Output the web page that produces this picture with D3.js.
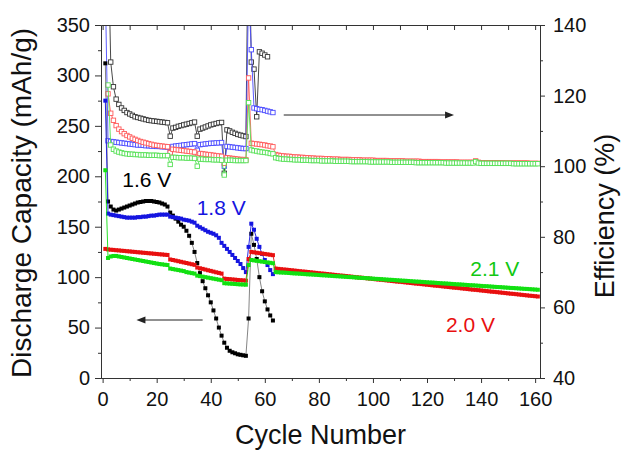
<!DOCTYPE html>
<html>
<head>
<meta charset="utf-8">
<script src="https://cdnjs.cloudflare.com/ajax/libs/d3/7.8.5/d3.min.js"></script>
<style>
  body { margin: 0; background: #fff; }
  svg text { font-family: 'Liberation Sans', Arial, Helvetica, sans-serif; }
</style>
</head>
<body>
<div id="chart"></div>
<script>
// values indexed by cycle (index 0 = cycle 1)
const cap16 = [
  312, 175, 170, 167, 166, 167, 168, 169, 170, 171,
  172, 173, 174, 174.5, 175, 175.5, 175.5, 175.5, 175, 174.5,
  174, 173, 172, 170, 164, 161, 158, 155, 152, 150,
  146, 141, 134, 125, 114, 104, 96, 89, 82, 75,
  67, 59, 50, 42, 35, 30, 27, 25.5, 24.5, 23.5,
  23, 22.5, 22, 59, 143, 132, 118, 100, 86, 76,
  68, 62, 57
]
const cap18 = [
  275, 163, 162, 161.5, 161, 160.5, 160, 159.5, 159, 159,
  159, 159, 159.5, 159.5, 160, 160, 160.5, 161, 161, 161.5,
  162, 162, 162, 162, 160, 159.5, 159, 158.5, 158, 157,
  156.5, 156, 155, 154, 151, 149.5, 148, 146.5, 145, 144,
  143, 141.5, 139, 134, 131, 128, 125, 122, 119, 116,
  113, 109, 105, 130, 153, 147, 138, 130, 123, 117,
  112, 107, 103
]
const cap20 = [
  128, 127.5, 127.2, 127, 126.7, 126.5, 126.2, 126, 125.7, 125.5,
  125.2, 125, 124.7, 124.5, 124.2, 124, 123.7, 123.5, 123.2, 123,
  122.7, 122.5, 122.2, 122, 117.5, 117, 116.4, 115.8, 115.2, 114.6,
  114, 113.4, 112.8, 112.2, 109.5, 108.8, 108.2, 107.5, 106.8, 106.2,
  105.5, 104.8, 104.2, 103.5, 98.5, 98.2, 98, 97.7, 97.5, 97.2,
  97, 96.8, 96.5, 118, 125, 124.6, 124.2, 123.8, 123.4, 123,
  122.6, 122.2, 121.8,
  108.5, 108.2, 107.9, 107.6, 107.4, 107.1, 106.8, 106.5, 106.2, 105.9,
  105.6, 105.4, 105.1, 104.8, 104.5, 104.2, 103.9, 103.6, 103.4, 103.1,
  102.8, 102.5, 102.2, 101.9, 101.6, 101.4, 101.1, 100.8, 100.5, 100.2,
  99.9, 99.6, 99.4, 99.1, 98.8, 98.5, 98.2, 97.9, 97.6, 97.4,
  97.1, 96.8, 96.5, 96.2, 95.9, 95.6, 95.4, 95.1, 94.8, 94.5,
  94.2, 93.9, 93.6, 93.4, 93.1, 92.8, 92.5, 92.2, 91.9, 91.6,
  91.4, 91.1, 90.8, 90.5, 90.2, 89.9, 89.6, 89.4, 89.1, 88.8,
  88.5, 88.2, 87.9, 87.6, 87.4, 87.1, 86.8, 86.5, 86.2, 85.9,
  85.6, 85.4, 85.1, 84.8, 84.5, 84.2, 83.9, 83.6, 83.4, 83.1,
  82.8, 82.5, 82.2, 81.9, 81.6, 81.4, 81.1, 80.8
]
const cap21 = [
  206, 119, 120.5, 121, 121, 120.5, 120, 119.5, 119, 118.5,
  118, 117.5, 117, 116.5, 116, 115.5, 115, 114.5, 114, 113.5,
  113, 112.7, 112.3, 112, 108.5, 108, 107.5, 107, 106.5, 106,
  105, 104.5, 104, 103.5, 101.5, 101, 100.5, 100, 99.5, 99,
  98.5, 98, 97.5, 97, 94, 93.8, 93.6, 93.4, 93.2, 93,
  92.8, 92.7, 92.5, 112, 117, 116.6, 116.2, 115.8, 115.4, 115,
  114.6, 114.2, 113.8,
  105.0, 104.8, 104.6, 104.5, 104.3, 104.1, 103.9, 103.7, 103.6, 103.4,
  103.2, 103.0, 102.8, 102.7, 102.5, 102.3, 102.1, 101.9, 101.8, 101.6,
  101.4, 101.2, 101.0, 100.9, 100.7, 100.5, 100.3, 100.1, 100.0, 99.8,
  99.6, 99.4, 99.2, 99.1, 98.9, 98.7, 98.5, 98.3, 98.2, 98.0,
  97.8, 97.6, 97.4, 97.3, 97.1, 96.9, 96.7, 96.5, 96.4, 96.2,
  96.0, 95.8, 95.6, 95.5, 95.3, 95.1, 94.9, 94.7, 94.6, 94.4,
  94.2, 94.0, 93.8, 93.7, 93.5, 93.3, 93.1, 92.9, 92.8, 92.6,
  92.4, 92.2, 92.0, 91.9, 91.7, 91.5, 91.3, 91.1, 91.0, 90.8,
  90.6, 90.4, 90.2, 90.1, 89.9, 89.7, 89.5, 89.3, 89.2, 89.0,
  88.8, 88.6, 88.4, 88.3, 88.1, 87.9, 87.7, 87.5
]

const eff16 = [
  null, 165, 129.5, 122.5, 119, 117.5, 116.5, 115.8, 115.2, 114.8,
  114.4, 114, 113.8, 113.6, 113.4, 113.2, 113, 112.9, 112.8, 112.7,
  112.6, 112.5, 112.4, 112.3, 108.5, 110.8, 111, 111.3, 111.5, 111.7,
  111.9, 112.1, 112.3, 112.5, 108.5, 110.5, 110.8, 111.1, 111.4, 111.7,
  111.9, 112.1, 112.3, 112.4, 98, 110.3, 110, 109.6, 109.3, 109,
  108.8, 108.6, 108.4, 175, 129.5, 127.5, 114, 132.4, 132, 131.5,
  131
]
const eff18 = [
  150, 107.2, 107, 106.9, 106.8, 106.7, 106.6, 106.5, 106.4, 106.3,
  106.2, 106.1, 106, 106, 105.9, 105.8, 105.8, 105.7, 105.7, 105.6,
  105.6, 105.5, 105.5, 105.4, 104, 105.6, 105.7, 105.8, 105.9, 106,
  106.1, 106.2, 106.3, 106.4, 104.5, 106.1, 106.2, 106.3, 106.4, 106.5,
  106.5, 106.6, 106.6, 106.7, 100, 105.6, 105.5, 105.4, 105.3, 105.2,
  105.1, 105, 105, 150, 133, 116.5, 116.3, 116.1, 116, 115.8,
  115.6, 115.4, 115.2
]
const eff20 = [
  null, 120.5, 115, 113, 111.5, 110.5, 109.8, 109.2, 108.7, 108.3,
  107.9, 107.6, 107.3, 107, 106.8, 106.6, 106.4, 106.2, 106, 105.9,
  105.8, 105.7, 105.6, 105.5, 103.8, 104.8, 104.7, 104.6, 104.5, 104.4,
  104.3, 104.2, 104.1, 104, 102.5, 103.6, 103.5, 103.4, 103.3, 103.2,
  103.1, 103, 102.9, 102.8, 100.8, 102.4, 102.3, 102.2, 102.1, 102,
  101.9, 101.9, 101.8, 125, 106.5, 106.4, 106.3, 106.2, 106.1, 106,
  105.8, 105.7, 105.5,
  103.3, 103.1, 103.0, 102.9, 102.8, 102.8, 102.7, 102.6, 102.6, 102.5,
  102.5, 102.4, 102.4, 102.3, 102.3, 102.2, 102.2, 102.2, 102.1, 102.1,
  102.1, 102.0, 102.0, 102.0, 101.9, 101.9, 101.9, 101.9, 101.8, 101.8,
  101.8, 101.8, 101.7, 101.7, 101.7, 101.7, 101.7, 101.6, 101.6, 101.6,
  101.6, 101.6, 101.5, 101.5, 101.5, 101.5, 101.5, 101.5, 101.4, 101.4,
  101.4, 101.4, 101.4, 101.4, 101.3, 101.3, 101.3, 101.3, 101.3, 101.3,
  101.3, 101.2, 101.2, 101.2, 101.2, 101.2, 101.2, 101.2, 101.1, 101.1,
  101.1, 101.1, 101.1, 101.1, 101.5, 101.1, 101.0, 101.0, 101.0, 101.0,
  101.0, 101.0, 101.0, 101.0, 101.0, 100.9, 100.9, 100.9, 100.9, 100.9,
  100.9, 100.9, 100.9, 100.9, 100.8, 100.8, 100.8, 100.8
]
const eff21 = [
  null, 123, 106, 104.8, 104.3, 104, 103.8, 103.6, 103.5, 103.4,
  103.4, 103.3, 103.3, 103.2, 103.2, 103.2, 103.1, 103.1, 103.1, 103.1,
  103, 103, 103, 103, 100.5, 102.5, 102.5, 102.4, 102.4, 102.4,
  102.3, 102.3, 102.3, 102.2, 100, 102, 102, 101.9, 101.9, 101.9,
  101.8, 101.8, 101.8, 101.7, 97.5, 101.7, 101.7, 101.7, 101.6, 101.6,
  101.6, 101.6, 101.6, 118, 104.6, 104.4, 104.3, 104.1, 104, 103.9,
  103.8, 103.6, 103.5,
  102.4, 102.2, 102.1, 102.0, 102.0, 101.9, 101.9, 101.8, 101.8, 101.8,
  101.7, 101.7, 101.7, 101.6, 101.6, 101.6, 101.6, 101.5, 101.5, 101.5,
  101.5, 101.5, 101.4, 101.4, 101.4, 101.4, 101.4, 101.4, 101.3, 101.3,
  101.3, 101.3, 101.3, 101.3, 101.3, 101.2, 101.2, 101.2, 101.2, 101.2,
  101.2, 101.2, 101.2, 101.1, 101.1, 101.1, 101.1, 101.1, 101.1, 101.1,
  101.1, 101.1, 101.0, 101.0, 101.0, 101.0, 101.0, 101.0, 101.0, 101.0,
  101.0, 101.0, 101.0, 100.9, 100.9, 100.9, 100.9, 100.9, 100.9, 100.9,
  100.9, 100.9, 100.9, 100.9, 101.3, 100.9, 100.8, 100.8, 100.8, 100.8,
  100.8, 100.8, 100.8, 100.8, 100.8, 100.8, 100.8, 100.8, 100.7, 100.7,
  100.7, 100.7, 100.7, 100.7, 100.7, 100.7, 100.7, 100.7
]

const xTicks = [0, 20, 40, 60, 80, 100, 120, 140, 160]
const capTicks = [0, 50, 100, 150, 200, 250, 300, 350]
const effTicks = [40, 60, 80, 100, 120, 140]
const voltLabels = ['1.6 V', '1.8 V', '2.0 V', '2.1 V']

const W = 623, H = 451
const L = 101, R = 540, T = 25, B = 378
const axisColor = '#333'

const svg = d3.select('#chart').append('svg')
  .attr('width', W)
  .attr('height', H)

const x = d3.scaleLinear().domain([-0.6, 161.8]).range([L, R])
const yCap = d3.scaleLinear().domain([0, 350]).range([B, T])
const yEff = d3.scaleLinear().domain([40, 140]).range([B, T])

svg.append('clipPath').attr('id', 'plot')
  .append('rect').attr('x', L).attr('y', T).attr('width', R - L).attr('height', B - T)

const toPts = arr => arr.map((v, i) => ({c: i + 1, v})).filter(d => d.v != null)

const series = [
  {cap: cap16, eff: eff16, color: '#000', effColor: '#333'},
  {cap: cap18, eff: eff18, color: '#1515e0', effColor: '#4a4aff'},
  {cap: cap20, eff: eff20, color: '#e81010', effColor: '#ff5a5a'},
  {cap: cap21, eff: eff21, color: '#12e012', effColor: '#55e055'}
]

const plot = svg.append('g').attr('clip-path', 'url(#plot)')

// efficiency: open squares
series.forEach(s => {
  let pts = toPts(s.eff)
  let line = d3.line().x(d => x(d.c)).y(d => yEff(d.v))
  plot.append('path')
    .attr('d', line(pts))
    .attr('fill', 'none')
    .attr('stroke', s.effColor)
    .attr('stroke-width', 0.9)
  plot.selectAll(null).data(pts).enter()
    .append('rect')
    .attr('x', d => x(d.c) - 2.2)
    .attr('y', d => yEff(d.v) - 2.2)
    .attr('width', 4.4)
    .attr('height', 4.4)
    .attr('fill', '#fff')
    .attr('stroke', s.effColor)
    .attr('stroke-width', 0.9)
})

// capacity: filled squares
series.forEach(s => {
  let pts = toPts(s.cap)
  let line = d3.line().x(d => x(d.c)).y(d => yCap(d.v))
  plot.append('path')
    .attr('d', line(pts))
    .attr('fill', 'none')
    .attr('stroke', s.color === '#000' ? '#777' : s.color)
    .attr('stroke-width', 0.9)
  plot.selectAll(null).data(pts).enter()
    .append('rect')
    .attr('x', d => x(d.c) - 2)
    .attr('y', d => yCap(d.v) - 2)
    .attr('width', 4)
    .attr('height', 4)
    .attr('fill', s.color)
})

// axes
const styleAxis = g => {
  g.selectAll('path, line').attr('stroke', axisColor).attr('stroke-width', 1)
  g.selectAll('text').attr('font-size', 20).attr('fill', '#111')
    .attr('font-family', "'Liberation Sans', Arial, sans-serif")
}
const range = (a, b, s) => d3.range(a, b + s / 2, s)

svg.append('g').attr('transform', `translate(0,${B})`)
  .call(d3.axisBottom(x).tickValues(xTicks).tickSize(5).tickPadding(9).tickSizeOuter(0))
  .call(styleAxis)
svg.append('g').attr('transform', `translate(0,${B})`)
  .call(d3.axisBottom(x).tickValues(range(10, 150, 20)).tickSize(3).tickFormat('').tickSizeOuter(0))
  .call(styleAxis)
svg.append('g').attr('transform', `translate(0,${T})`)
  .call(d3.axisTop(x).tickValues(range(0, 160, 10)).tickSize(-5).tickFormat('').tickSizeOuter(0))
  .call(styleAxis)
svg.append('g').attr('transform', `translate(${L},0)`)
  .call(d3.axisLeft(yCap).tickValues(capTicks).tickSize(6).tickPadding(5).tickSizeOuter(0))
  .call(styleAxis)
svg.append('g').attr('transform', `translate(${L},0)`)
  .call(d3.axisLeft(yCap).tickValues(range(25, 325, 50)).tickSize(3).tickFormat('').tickSizeOuter(0))
  .call(styleAxis)
svg.append('g').attr('transform', `translate(${R},0)`)
  .call(d3.axisRight(yEff).tickValues(effTicks).tickSize(5).tickPadding(8).tickSizeOuter(0))
  .call(styleAxis)
svg.append('g').attr('transform', `translate(${R},0)`)
  .call(d3.axisRight(yEff).tickValues(range(50, 130, 20)).tickSize(3).tickFormat('').tickSizeOuter(0))
  .call(styleAxis)

// axis titles
svg.append('text')
  .text('Cycle Number')
  .attr('x', (L + R) / 2)
  .attr('y', 444)
  .attr('text-anchor', 'middle')
  .attr('font-size', 27)
  .attr('fill', '#111')
svg.append('text')
  .text('Discharge Capacity (mAh/g)')
  .attr('transform', 'translate(31,203) rotate(-90)')
  .attr('text-anchor', 'middle')
  .attr('font-size', 28)
  .attr('fill', '#111')
svg.append('text')
  .text('Efficiency (%)')
  .attr('transform', 'translate(614,216) rotate(-90)')
  .attr('text-anchor', 'middle')
  .attr('font-size', 27)
  .attr('fill', '#111')

// voltage labels
const labelPos = [
  {c: 7.3, v: 189, color: '#000', axis: yCap},
  {c: 34.8, v: 162, color: '#1515e0', axis: yCap},
  {c: 127, v: 45.5, color: '#e81010', axis: yCap},
  {c: 136, v: 101, color: '#12c812', axis: yCap}
]
svg.selectAll('.vlabel')
  .data(voltLabels)
  .enter()
  .append('text')
  .attr('class', 'vlabel')
  .text(d => d)
  .attr('x', (d, i) => x(labelPos[i].c))
  .attr('y', (d, i) => labelPos[i].axis(labelPos[i].v))
  .attr('font-size', 21)
  .attr('fill', (d, i) => labelPos[i].color)

// arrows
const arrow = (c0, c1, yy) => {
  let x0 = x(c0), x1 = x(c1), dir = Math.sign(x1 - x0)
  svg.append('line')
    .attr('x1', x0).attr('y1', yy).attr('x2', x1 - dir * 6).attr('y2', yy)
    .attr('stroke', '#222').attr('stroke-width', 1)
  svg.append('path')
    .attr('d', `M${x1},${yy}L${x1 - dir * 9},${yy - 3.5}L${x1 - dir * 9},${yy + 3.5}Z`)
    .attr('fill', '#222')
}
arrow(37, 12.5, yCap(57.5))
arrow(67, 130, yEff(114.5))
</script>
</body>
</html>
